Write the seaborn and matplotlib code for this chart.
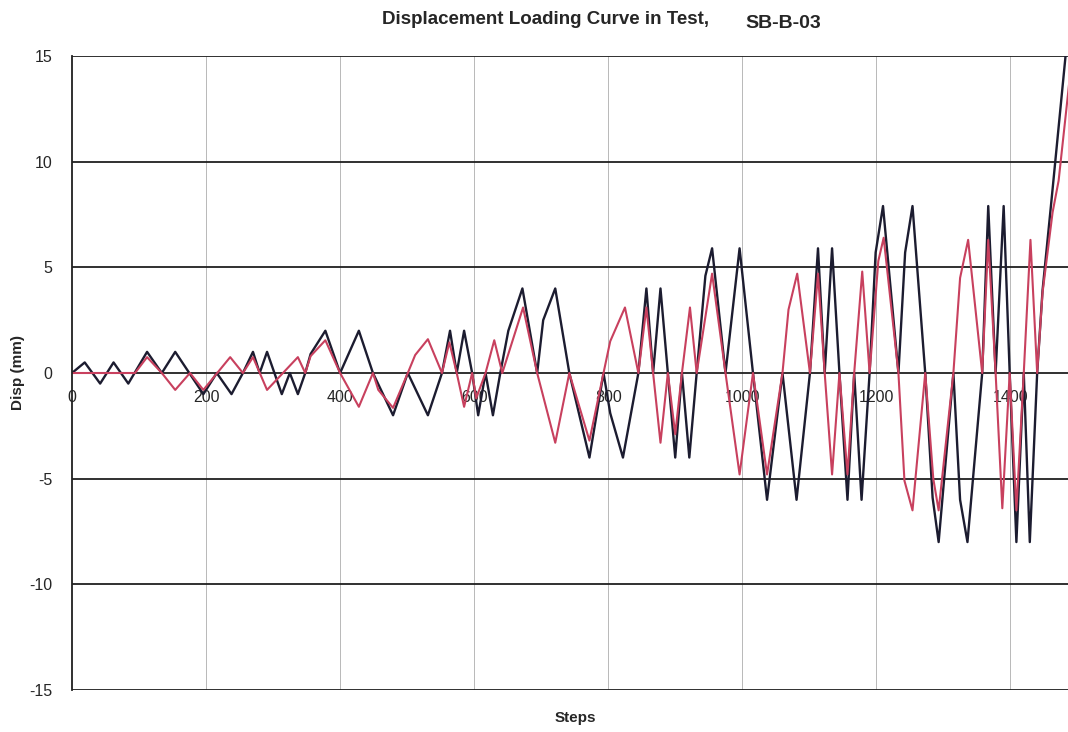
import matplotlib
matplotlib.use("Agg")
import matplotlib.pyplot as plt
import seaborn as sns
import pandas as pd

# loading history: (step, displacement in mm)
black_steps = [0, 19, 42, 62, 84, 112, 134, 154, 196, 216, 238, 255, 270, 280, 291, 313, 325, 337,
               348, 356, 378, 400, 428, 449, 479, 501, 531, 552, 564, 574, 585, 597, 606, 617, 628,
               639, 651, 672, 694, 703, 721, 742, 772, 793, 803, 822, 845, 857, 867, 878, 889, 900,
               910, 921, 932, 945, 955, 975, 996, 1016, 1037, 1060, 1081, 1101, 1113, 1123, 1134,
               1145, 1157, 1167, 1178, 1190, 1199, 1210, 1233, 1243, 1254, 1273, 1284, 1293, 1315,
               1325, 1336, 1358, 1367, 1378, 1390, 1399, 1409, 1420, 1429, 1440, 1448, 1463, 1490]
black_disp = [0, 0.5, -0.5, 0.5, -0.5, 1, 0, 1, -1, 0, -1, 0, 1, 0, 1, -1, 0, -1,
              0, 0.9, 2, 0, 2, 0, -2, 0, -2, 0, 2, 0, 2, 0, -2, 0, -2,
              0, 2.0, 4, 0, 2.5, 4, 0, -4, 0, -1.9, -4, 0, 4, 0, 4, 0, -4,
              0, -4, 0, 4.6, 5.9, 0, 5.9, 0, -6, 0, -6, 0, 5.9, 0, 5.9,
              0, -6, 0, -6, 0, 5.7, 7.9, 0, 5.7, 7.9, 0, -5.9, -8, 0,
              -6, -8, 0, 7.9, 0, 7.9, 0, -8, 0, -8, 0, 3.9, 8.7, 17.5]

red_steps = [0, 94, 112, 134, 154, 176, 196, 236, 255, 270, 291, 337, 348, 356, 378, 400, 428,
             449, 457, 479, 501, 512, 531, 552, 563, 574, 585, 597, 603, 617, 630, 642, 673, 694,
             721, 742, 772, 793, 803, 825, 845, 857, 867, 878, 889, 900, 910, 922, 932, 955, 975,
             996, 1016, 1037, 1060, 1069, 1082, 1101, 1113, 1123, 1134, 1145, 1157, 1167, 1179,
             1190, 1203, 1211, 1233, 1242, 1254, 1273, 1285, 1293, 1315, 1325, 1337, 1358, 1367,
             1378, 1388, 1399, 1409, 1420, 1430, 1440, 1448, 1463, 1472, 1486, 1490]
red_disp = [0, 0, 0.75, 0, -0.8, 0, -0.8, 0.75, 0, 0.75, -0.8, 0.75, 0, 0.8, 1.55, 0, -1.6,
            0, -0.8, -1.65, 0, 0.85, 1.6, 0, 1.45, 0, -1.6, 0, -1.2, 0, 1.55, 0, 3.1, 0,
            -3.3, 0, -3.2, 0, 1.5, 3.1, 0, 3.1, 0, -3.3, 0, -2.9, 0, 3.1, 0, 4.7, 0,
            -4.8, 0, -4.8, 0, 3.0, 4.7, 0, 4.7, 0, -4.8, 0, -4.8, 0, 4.8,
            0, 5.3, 6.4, 0, -5.1, -6.5, 0, -5.0, -6.5, 0, 4.5, 6.3, 0, 6.3,
            0, -6.4, 0, -6.5, 0, 6.3, 0, 3.8, 7.6, 9.1, 13.2, 14.4]

y_ticks = [-15, -10, -5, 0, 5, 10, 15]
x_ticks = [0, 200, 400, 600, 800, 1000, 1200, 1400]

black_df = pd.DataFrame({"Steps": black_steps, "Disp": black_disp})
red_df = pd.DataFrame({"Steps": red_steps, "Disp": red_disp})

sns.set_style("white")
plt.rcParams["font.family"] = ["Liberation Sans", "DejaVu Sans"]

fig = plt.figure(figsize=(10.68, 7.32), dpi=100)
ax = fig.add_axes([72 / 1068, 1 - 690 / 732, 1 - 72 / 1068, (690 - 56) / 732])

sns.lineplot(data=black_df, x="Steps", y="Disp", color="#1c1c30", linewidth=1.7,
             estimator=None, sort=False, ax=ax)
sns.lineplot(data=red_df, x="Steps", y="Disp", color="#c8405e", linewidth=1.5,
             estimator=None, sort=False, ax=ax)

ax.set_xlim(0, 1486)
ax.set_ylim(-15, 15)

# gridlines: dark horizontals, faint verticals
for v in y_ticks:
    ax.axhline(v, color="#202020", lw=1.3, zorder=0.5)
for v in x_ticks[1:]:
    ax.axvline(v, color="#b8b8b8", lw=0.7, zorder=0.4)

ax.spines["top"].set_visible(False)
ax.spines["right"].set_visible(False)
ax.spines["left"].set_color("#202020")
ax.spines["left"].set_linewidth(1.3)
ax.spines["bottom"].set_position(("data", 0))
ax.spines["bottom"].set_visible(False)

ax.set_yticks(y_ticks)
ax.set_xticks(x_ticks)
ax.set_xticklabels([str(t) for t in x_ticks], fontsize=11.5)
ax.set_yticklabels([str(t) for t in y_ticks], fontsize=11.5)
ax.tick_params(axis="y", length=5, direction="out", width=1, pad=9, color="#202020")
ax.tick_params(axis="x", length=0, pad=12)

ax.set_xlabel("")
ax.set_ylabel("")

fig.text(18 / 1068, 1 - 373 / 732, "Disp (mm)", rotation=90, ha="center", va="center",
         fontsize=11, fontweight="bold")
fig.text(575 / 1068, 1 - 718 / 732, "Steps", ha="center", va="center",
         fontsize=11, fontweight="bold")
fig.text(382 / 1068, 1 - 20 / 732, "Displacement Loading Curve in Test,", ha="left", va="center",
         fontsize=13.5, fontweight="bold")
fig.text(745 / 1068, 1 - 24 / 732, "SB-B-03", ha="left", va="center",
         fontsize=14, fontweight="bold")

fig.savefig("out.png", dpi=100)
